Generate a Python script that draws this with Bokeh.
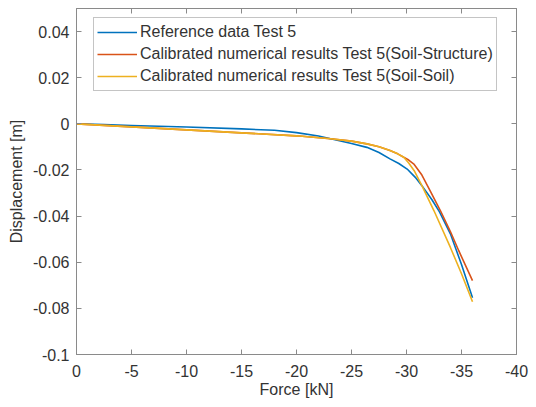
from bokeh.plotting import figure
from bokeh.models import Range1d, LinearAxis, FixedTicker, CustomJSTickFormatter, Legend, LegendItem
from bokeh.embed import file_html
from bokeh.resources import INLINE

# Data
ref_x = [0, -2.5, -5, -10, -15, -18, -20, -22, -23.1, -25, -26.4, -27.5, -28.5, -29.3, -30.06, -30.8, -31.4, -32.3, -33, -34, -35, -36]
ref_y = [0, -0.0003, -0.0007, -0.0014, -0.0022, -0.0028, -0.0038, -0.0053, -0.0065, -0.0085, -0.0102, -0.0124, -0.0152, -0.0172, -0.0196, -0.0232, -0.0268, -0.0328, -0.0382, -0.0478, -0.061, -0.0754]

ss_x = [0, -5, -10, -15, -20, -23.1, -25, -26.4, -27.5, -28.5, -29.2, -29.75, -30.2, -30.7, -31.4, -32.2, -33.1, -34, -34.75, -36]
ss_y = [0, -0.0013, -0.0026, -0.0039, -0.0052, -0.0065, -0.0075, -0.0087, -0.0099, -0.0116, -0.0130, -0.0145, -0.0157, -0.0176, -0.0222, -0.0295, -0.0378, -0.0468, -0.055, -0.068]

soil_x = [0, -5, -10, -15, -20, -23.1, -25, -26.4, -27.5, -28.5, -29.2, -29.75, -30.2, -30.7, -31.4, -32.5, -34, -35, -36]
soil_y = [0, -0.0013, -0.0026, -0.0039, -0.0052, -0.0065, -0.0075, -0.0087, -0.0099, -0.0116, -0.0130, -0.0145, -0.0170, -0.0203, -0.0268, -0.0377, -0.0537, -0.065, -0.0771]

x_ticks = [0, -5, -10, -15, -20, -25, -30, -35, -40]
y_ticks = [-0.1, -0.08, -0.06, -0.04, -0.02, 0, 0.02, 0.04]

labels = ["Reference data Test 5",
          "Calibrated numerical results Test 5(Soil-Structure)",
          "Calibrated numerical results Test 5(Soil-Soil)"]
colors = ["#0072BD", "#D95319", "#EDB120"]

FONT = "Liberation Sans"
AX = "#8a8a8a"
TXT = "#333333"
FS = "16px"

p = figure(width=536, height=407, output_backend="svg", toolbar_location=None,
           x_range=Range1d(0, -40), y_range=Range1d(-0.1, 0.05),
           min_border_left=76, min_border_right=20, min_border_top=8, min_border_bottom=53)
p.xgrid.visible = False
p.ygrid.visible = False
p.outline_line_color = AX
p.outline_line_width = 1
p.background_fill_color = "white"
p.border_fill_color = "white"

fmt = CustomJSTickFormatter(code="return String(Math.round(tick*1000)/1000);")
blank = CustomJSTickFormatter(code="return '';")

for ax, ticks in ((p.xaxis[0], x_ticks), (p.yaxis[0], y_ticks)):
    ax.ticker = FixedTicker(ticks=ticks)
    ax.formatter = fmt
    ax.major_tick_in = 5
    ax.major_tick_out = 0
    ax.minor_tick_in = 0
    ax.minor_tick_out = 0
    ax.axis_line_color = AX
    ax.major_tick_line_color = AX
    ax.major_label_text_font = FONT
    ax.major_label_text_font_size = FS
    ax.major_label_text_color = TXT
    ax.axis_label_text_font = FONT
    ax.axis_label_text_font_size = FS
    ax.axis_label_text_font_style = "normal"
    ax.axis_label_text_color = TXT

p.xaxis.axis_label = "Force [kN]"
p.yaxis.axis_label = "Displacement [m]"
p.xaxis.major_label_standoff = 10
p.xaxis.axis_label_standoff = 1
p.yaxis.major_label_standoff = 7
p.yaxis.axis_label_standoff = 5

# box ticks on top and right
for loc, ticks in (("above", x_ticks), ("right", y_ticks)):
    ax = LinearAxis(ticker=FixedTicker(ticks=ticks), formatter=blank,
                    major_tick_in=5, major_tick_out=0,
                    minor_tick_in=0, minor_tick_out=0, axis_line_color=AX,
                    major_tick_line_color=AX, major_label_standoff=0)
    p.add_layout(ax, loc)

r1 = p.line(ref_x, ref_y, line_color=colors[0], line_width=1.6)
r2 = p.line(ss_x, ss_y, line_color=colors[1], line_width=1.6)
r3 = p.line(soil_x, soil_y, line_color=colors[2], line_width=1.6)

legend = Legend(items=[LegendItem(label=labels[0], renderers=[r1]),
                       LegendItem(label=labels[1], renderers=[r2]),
                       LegendItem(label=labels[2], renderers=[r3])],
                location=(17, 263), orientation="vertical",
                glyph_width=40, glyph_height=22, label_height=22, spacing=0,
                padding=3, margin=0, label_standoff=3,
                label_text_font=FONT, label_text_font_size=FS, label_text_color=TXT,
                border_line_color=AX, border_line_width=1,
                background_fill_color="white", background_fill_alpha=1)
p.add_layout(legend, "center")

open("out.html", "w").write(file_html(p, INLINE))
